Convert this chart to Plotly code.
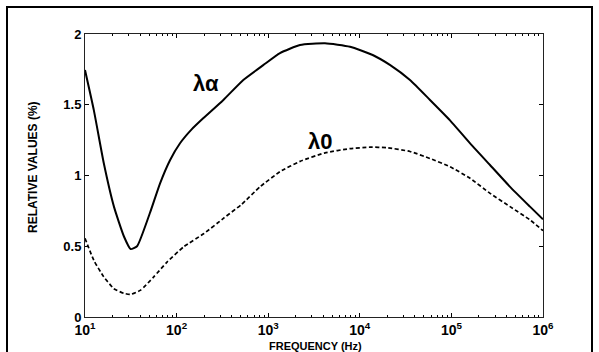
import plotly.graph_objects as go

freq_alpha = [10, 12.5, 16, 20.7, 26.7, 31.5, 37, 51, 66, 85, 109, 146, 195, 324, 535,
              883, 1345, 2225, 4170, 7820, 14000, 21500, 35300, 58400, 96600, 160000, 264000,
              437000, 721000, 1000000]
lambda_alpha = [1.745, 1.46, 1.09, 0.78, 0.567, 0.48, 0.50, 0.733, 0.945, 1.11, 1.228,
                1.326, 1.404, 1.534, 1.675, 1.78, 1.865, 1.922, 1.934, 1.91, 1.85, 1.78, 1.675,
                1.534, 1.39, 1.227, 1.074, 0.92, 0.78, 0.69]

freq_zero = [10, 12.5, 16, 20.7, 26.7, 31.5, 40.5, 56.6, 79, 120, 199, 329, 510, 813, 1345,
             2225, 4170, 7820, 12900, 19600, 35300, 58400, 96600, 160000, 264000, 437000,
             721000, 1000000]
lambda_zero = [0.556, 0.40, 0.285, 0.20, 0.167, 0.16, 0.19, 0.285, 0.39, 0.497, 0.59, 0.70,
               0.795, 0.92, 1.027, 1.10, 1.16, 1.19, 1.20, 1.197, 1.17, 1.12, 1.062, 0.98,
               0.874, 0.78, 0.686, 0.61]

x_tickvals = [10, 100, 1000, 10000, 100000, 1000000]
x_ticktext = ["<b>10<sup>1</sup></b>", "<b>10<sup>2</sup></b>", "<b>10<sup>3</sup></b>",
              "<b>10<sup>4</sup></b>", "<b>10<sup>5</sup></b>", "<b>10<sup>6</sup></b>"]
y_tickvals = [0, 0.5, 1, 1.5, 2]
y_ticktext = ["<b>0</b>", "<b>0.5</b>", "<b>1</b>", "<b>1.5</b>", "<b>2</b>"]

minor_vals = [m * 10 ** d for d in range(1, 6) for m in range(2, 10)]

fig = go.Figure()
fig.add_trace(go.Scatter(x=freq_alpha, y=lambda_alpha, mode="lines",
                         line=dict(color="black", width=2, shape="spline", smoothing=0.5),
                         showlegend=False))
fig.add_trace(go.Scatter(x=freq_zero, y=lambda_zero, mode="lines",
                         line=dict(color="black", width=1.7, dash="4px,2.5px", shape="spline", smoothing=0.5),
                         showlegend=False))

font_fam = "Liberation Sans, Arial, sans-serif"
fig.update_layout(
    width=599, height=352,
    margin=dict(l=85, r=56, t=34, b=35),
    paper_bgcolor="white", plot_bgcolor="white",
    font=dict(family=font_fam, color="black"),
    xaxis=dict(type="log", range=[1, 6], tickvals=x_tickvals, ticktext=x_ticktext,
               ticks="inside", ticklen=4, tickcolor="black", showline=True, linecolor="#222",
               linewidth=1, mirror="allticks", showgrid=False, zeroline=False,
               tickfont=dict(size=14, family=font_fam, color="black", weight="bold"),
               minor=dict(tickvals=minor_vals, ticks="inside", ticklen=2, tickcolor="black", showgrid=False)),
    yaxis=dict(range=[0, 2], tickvals=y_tickvals, ticktext=y_ticktext,
               ticks="inside", ticklen=4, tickcolor="black", showline=True, linecolor="#222",
               linewidth=1, mirror="allticks", showgrid=False, zeroline=False,
               tickfont=dict(size=13, family=font_fam, color="black", weight="bold")),
)

fig.add_annotation(text="<b>λα</b>", x=(206 - 85) / 458, y=(317 - 83) / 283, xref="paper", yref="paper",
                   showarrow=False, xanchor="center", yanchor="middle",
                   font=dict(size=22, family=font_fam, color="black"))
fig.add_annotation(text="<b>λ0</b>", x=(320 - 85) / 458, y=(317 - 141) / 283, xref="paper", yref="paper",
                   showarrow=False, xanchor="center", yanchor="middle",
                   font=dict(size=22, family=font_fam, color="black"))
fig.add_annotation(text="<b>RELATIVE VALUES (%)</b>", x=(33 - 85) / 458, y=(317 - 167) / 283, xref="paper", yref="paper",
                   showarrow=False, textangle=-90, xanchor="center", yanchor="middle",
                   font=dict(size=12, family=font_fam, color="black"))
fig.add_annotation(text="<b>FREQUENCY (Hz)</b>", x=(315 - 85) / 458, y=(317 - 346) / 283, xref="paper", yref="paper",
                   showarrow=False, xanchor="center", yanchor="middle",
                   font=dict(size=11, family=font_fam, color="black"))

# outer frame
fig.add_shape(type="rect", xref="paper", yref="paper",
              x0=(7 - 85) / 458, x1=(592 - 85) / 458, y0=(317 - 360) / 283, y1=(317 - 7) / 283,
              line=dict(color="black", width=2), fillcolor="rgba(0,0,0,0)", layer="below")

fig.write_html("out.html")
